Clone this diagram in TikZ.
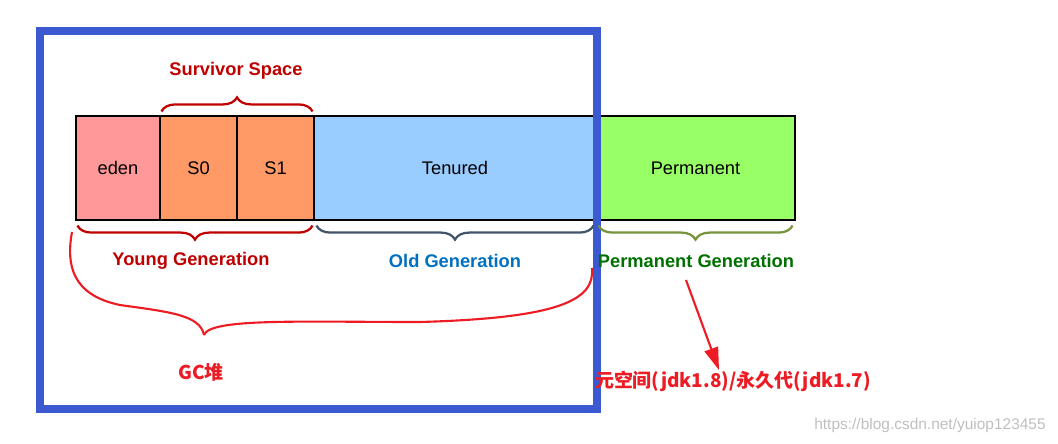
\documentclass[tikz,border=0pt]{standalone}
\usepackage{fontspec}
\setmainfont{Liberation Sans}
\newfontfamily\cjk{Noto Sans CJK SC}
\usetikzlibrary{decorations.pathreplacing, arrows.meta, calc}
\definecolor{edenred}{RGB}{255,153,153}
\definecolor{survorange}{RGB}{255,153,102}
\definecolor{tenblue}{RGB}{153,204,255}
\definecolor{permgreen}{RGB}{153,255,102}
\definecolor{darkred}{RGB}{192,0,0}
\definecolor{slate}{RGB}{68,84,106}
\definecolor{oldblue}{RGB}{0,112,192}
\definecolor{olive}{RGB}{119,147,60}
\definecolor{permtext}{RGB}{0,112,0}
\definecolor{handred}{RGB}{237,28,36}
\definecolor{frameblue}{RGB}{59,89,209}
\tikzset{
  cell/.style={draw=black, thick, minimum height=104*0.025cm, inner sep=0pt, font=\fontsize{13}{15}\selectfont},
  brc/.style={decorate, decoration={brace, amplitude=10pt}, line width=1.6pt},
  lbl/.style={font=\fontsize{13}{15}\selectfont\bfseries},
  cjklbl/.style={font=\fontsize{13.5}{16}\selectfont\cjk\bfseries}
}
\begin{document}
\begin{tikzpicture}[x=0.025cm, y=-0.025cm]
    \useasboundingbox (0,0) rectangle (1058,443);

    \node (eden) [cell, fill=edenred, minimum width=84*0.025cm] at (118,168) {eden};
    \node (s0) [cell, fill=survorange, minimum width=77*0.025cm] at (198.5,168) {S0};
    \node (s1) [cell, fill=survorange, minimum width=77*0.025cm] at (275.5,168) {S1};
    \node (tenured) [cell, fill=tenblue, minimum width=282*0.025cm] at (455,168) {Tenured};
    \node (perm) [cell, fill=permgreen, minimum width=199*0.025cm] at (695.5,168) {Permanent};

    \draw [frameblue, line width=5pt] (40,31) rectangle (597,409);

    \draw [brc, darkred] ($(s0.north west)+(2,-4)$) -- ($(s1.north east)+(-2,-4)$);
    \node (surv) [lbl, darkred] at (236,71) {Survivor Space};

    \draw [brc, darkred, decoration={mirror}] ($(eden.south west)+(2,5)$) -- ($(s1.south east)+(-2,5)$);
    \node (young) [lbl, darkred] at (191,261) {Young Generation};
    \draw [brc, slate, decoration={mirror}] ($(tenured.south west)+(3,5)$) -- ($(tenured.south east)+(-3,5)$);
    \node (old) [lbl, oldblue] at (455,261) {Old Generation};
    \draw [brc, olive, decoration={mirror}] ($(perm.south west)+(3,5)$) -- ($(perm.south east)+(-3,5)$);
    \node (permgen) [lbl, permtext] at (696,261) {Permanent Generation};

    % hand drawn brace
    \draw [handred, line width=1.5pt] (72,232) .. controls (66,265) and (72,295) .. (120,305)
        .. controls (170,312) and (200,315) .. (204,335);
    \draw [handred, line width=1.5pt] (204,335) .. controls (210,318) and (300,322) .. (420,322)
        .. controls (560,318) and (595,300) .. (592,268);
    \node (gc) [cjklbl, handred] at (201,372) {GC堆};

    \coordinate (from) at (686,280);
    \node (meta) [cjklbl, handred] at (733,381) {元空间(jdk1.8)/永久代(jdk1.7)};
    \draw [handred, line width=1.5pt, -{Triangle[length=16pt,width=10pt]}] (from) -- (719,370);

    \node (mark) [gray!50, font=\fontsize{11}{13}\selectfont] at (930,425) {https://blog.csdn.net/yuiop123455};
\end{tikzpicture}
\end{document}
